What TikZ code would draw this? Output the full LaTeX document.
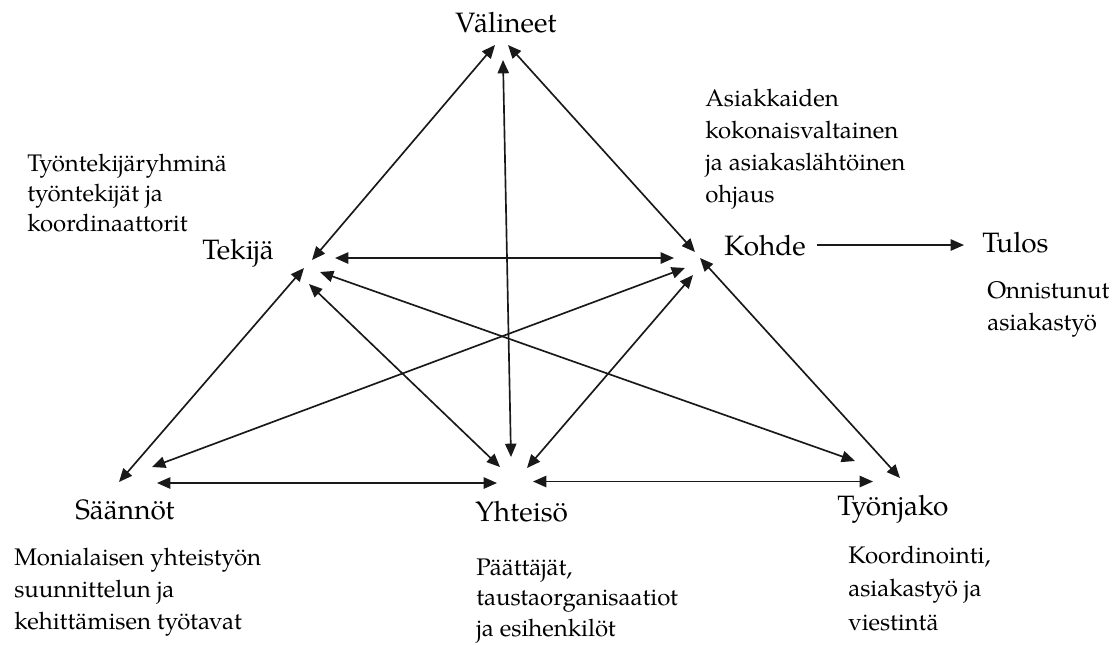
\documentclass[tikz,border=0pt]{standalone}
\usepackage{fontspec}
\setmainfont{TeX Gyre Pagella}
\usetikzlibrary{arrows.meta}
\begin{document}
\begin{tikzpicture}[x=0.75pt,y=-0.75pt,
  lbl/.style={anchor=base west,inner sep=0pt,font=\fontsize{21}{26}\selectfont},
  desc/.style={anchor=north west,inner sep=0pt,align=left,font=\fontsize{18}{24}\selectfont},
  tip/.style={Triangle[length=10pt,width=8.5pt]},
  conn/.style={line width=1.25pt,draw=black!90,{Triangle[length=10pt,width=8.5pt]}-{Triangle[length=10pt,width=8.5pt]}},
  oneway/.style={line width=1.25pt,draw=black!90,-{Triangle[length=10pt,width=8.5pt]}}]
\useasboundingbox (0,0) rectangle (1116,644);

% labels
\node[lbl] (val) at (455,32) {Välineet};
\node[lbl] (tek) at (202,259) {Tekijä};
\node[lbl] (koh) at (724,255) {Kohde};
\node[lbl] (tul) at (982,252) {Tulos};
\node[lbl] (saa) at (75,519) {Säännöt};
\node[lbl] (yht) at (475,521) {Yhteisö};
\node[lbl] (tyo) at (837,515) {Työnjako};

% descriptions
\node[desc,font=\fontsize{18}{22.5}\selectfont] (dtek) at (27,150) {\strut Työntekijäryhminä\\työntekijät ja\\koordinaattorit};
\node[desc] (dkoh) at (705,84) {\strut Asiakkaiden\\kokonaisvaltainen\\ja asiakaslähtöinen\\ohjaus};
\node[desc] (dtul) at (987,276) {\strut Onnistunut\\asiakastyö};
\node[desc] (dsaa) at (14,543) {\strut Monialaisen yhteistyön\\suunnittelun ja\\kehittämisen työtavat};
\node[desc,font=\fontsize{18}{23}\selectfont] (dyht) at (476,553.5) {\strut Päättäjät,\\taustaorganisaatiot\\ja esihenkilöt};
\node[desc,font=\fontsize{18}{25}\selectfont] (dtyo) at (848,540) {\strut Koordinointi,\\asiakastyö ja\\viestintä};

% connector end points
\coordinate (V1) at (495,45);
\coordinate (V2) at (503,60);
\coordinate (V3) at (508,45);
\coordinate (T1) at (312,260);
\coordinate (T2) at (335,258);
\coordinate (T3) at (304,268);
\coordinate (T4) at (320,272);
\coordinate (T5) at (309,284);
\coordinate (K1) at (695,252);
\coordinate (K2) at (674,258);
\coordinate (K3) at (685,268);
\coordinate (K4) at (693,275);
\coordinate (K5) at (700,258);
\coordinate (K6) at (817,245);
\coordinate (U1) at (964,245);
\coordinate (S1) at (119,482);
\coordinate (S2) at (152,467);
\coordinate (S3) at (157,483);
\coordinate (Y1) at (500,467);
\coordinate (Y2) at (511,457);
\coordinate (Y3) at (527,468);
\coordinate (Y4) at (497,483);
\coordinate (Y5) at (533,481.5);
\coordinate (W1) at (855,461);
\coordinate (W2) at (900,478);
\coordinate (W3) at (873,481.5);

% connectors
\draw[conn] (T1) -- (V1);
\draw[conn] (K1) -- (V3);
\draw[conn] (Y2) -- (V2);
\draw[conn] (T2) -- (K2);
\draw[conn] (T3) -- (S1);
\draw[conn] (T5) -- (Y1);
\draw[conn] (T4) -- (W1);
\draw[conn] (K3) -- (S2);
\draw[conn] (K4) -- (Y3);
\draw[conn] (K5) -- (W2);
\draw[conn] (S3) -- (Y4);
\draw[conn] (Y5) -- (W3);
\draw[oneway] (K6) -- (U1);
\end{tikzpicture}
\end{document}
